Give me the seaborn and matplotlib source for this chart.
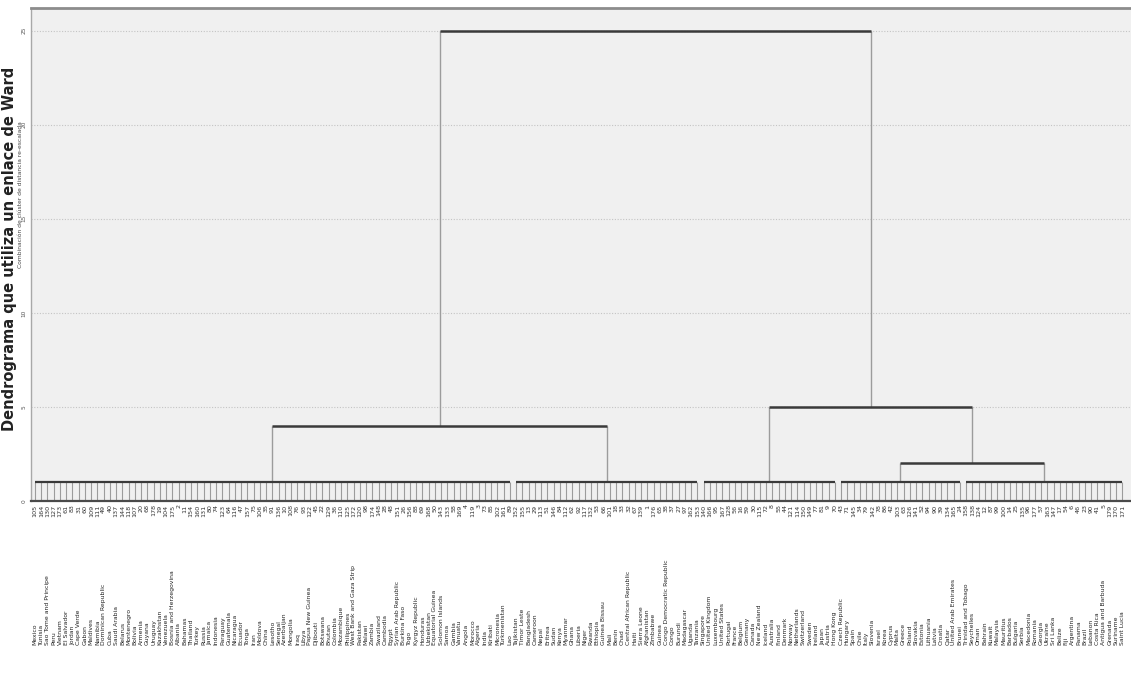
import pandas as pd
import seaborn as sns
import matplotlib.pyplot as plt
from matplotlib.transforms import blended_transform_factory

# leaves of each cluster, left to right, with the case number shown under each leaf
cluster_a_names = [
    "Mexico", "Tunisia", "Sao Tome and Principe", "Peru", "Vietnam", "El Salvador",
    "Jordan", "Cape Verde", "Gabon", "Maldives", "Namibia", "Dominican Republic",
    "Cuba", "Saudi Arabia", "Belarus", "Montenegro", "Bolivia", "Armenia", "Guyana",
    "Uruguay", "Kazakhstan", "Venezuela", "Bosnia and Herzegovina", "Albania",
    "Bahamas", "Thailand", "Turkey", "Russia", "Jamaica", "Indonesia", "Paraguay",
    "Guatemala", "Nicaragua", "Ecuador", "Tonga", "Iran", "Moldova", "China",
    "Lesotho", "Senegal", "Azerbaijan", "Mongolia", "Iraq", "Libya",
    "Papua New Guinea", "Djibouti", "Botswana", "Bhutan", "Colombia", "Mozambique",
    "Philippines", "West Bank and Gaza Strip", "Pakistan", "Malawi", "Zambia",
    "Swaziland", "Cambodia", "Egypt", "Syrian Arab Republic", "Burkina Faso", "Togo",
    "Kyrgyz Republic", "Honduras", "Uzbekistan", "Equatorial Guinea",
    "Solomon Islands", "Samoa", "Gambia", "Vanuatu", "Angola", "Morocco", "Algeria",
    "India", "Kiribati", "Micronesia", "Turkmenistan", "Lao",
]
cluster_a_ids = [
    105, 164, 130, 127, 173, 61, 83, 31, 60, 109, 111, 49, 40, 137, 144, 118, 107,
    20, 68, 178, 19, 104, 175, 2, 11, 154, 160, 131, 80, 74, 123, 64, 116, 47, 157,
    75, 106, 35, 91, 136, 10, 108, 76, 93, 122, 45, 22, 129, 36, 110, 125, 172, 120,
    98, 174, 148, 28, 48, 151, 26, 156, 88, 69, 168, 50, 143, 133, 58, 169, 4, 119,
    3, 73, 85, 102, 161, 89,
]

cluster_b_names = [
    "Tajikistan", "Timor Leste", "Bangladesh", "Cameroon", "Nepal", "Eritrea",
    "Sudan", "Kenya", "Myanmar", "Ghana", "Liberia", "Niger", "Rwanda", "Ethiopia",
    "Guinea Bissau", "Mali", "Benin", "Chad", "Central African Republic", "Haiti",
    "Sierra Leone", "Afghanistan", "Zimbabwe", "Guinea", "Congo Democratic Republic",
    "Congo", "Burundi", "Madagascar", "Uganda", "Tanzania",
]
cluster_b_ids = [
    152, 155, 13, 29, 113, 51, 146, 84, 112, 62, 92, 117, 132, 53, 66, 101, 18, 33,
    32, 67, 139, 1, 176, 65, 38, 37, 27, 97, 162, 153,
]

cluster_c_names = [
    "Singapore", "United Kingdom", "Luxembourg", "United States", "Portugal",
    "France", "Belgium", "Germany", "Canada", "New Zealand", "Iceland", "Australia",
    "Finland", "Denmark", "Norway", "Netherlands", "Switzerland", "Sweden",
    "Ireland", "Japan", "Austria", "Hong Kong",
]
cluster_c_ids = [
    140, 166, 95, 167, 128, 56, 16, 59, 30, 115, 72, 8, 55, 44, 121, 114, 150, 149,
    77, 81, 9, 70,
]

cluster_d_names = [
    "Czech Republic", "Hungary", "Spain", "Chile", "Italy", "Slovenia", "Israel",
    "Korea", "Cyprus", "Malta", "Greece", "Poland", "Slovakia", "Estonia",
    "Lithuania", "Latvia", "Croatia", "Qatar", "United Arab Emirates", "Brunei",
]
cluster_d_ids = [
    43, 71, 145, 34, 79, 142, 78, 86, 42, 103, 63, 126, 141, 52, 94, 90, 39, 134,
    165, 24,
]

cluster_e_names = [
    "Trinidad and Tobago", "Seychelles", "Oman", "Bahrain", "Kuwait", "Malaysia",
    "Mauritius", "Barbados", "Bulgaria", "Serbia", "Macedonia", "Romania",
    "Georgia", "Ukraine", "Sri Lanka", "Belize", "Fiji", "Argentina", "Panama",
    "Brazil", "Lebanon", "Costa Rica", "Antigua and Barbuda", "Grenada",
    "Suriname", "Saint Lucia",
]
cluster_e_ids = [
    158, 138, 124, 12, 87, 99, 100, 14, 25, 135, 96, 177, 57, 163, 147, 17, 54, 6,
    46, 23, 90, 41, 5, 179, 170, 171,
]

# rescaled distances (0-25) of the visible joins
leaf_join = 1
join_d_e = 2
join_a_b = 4
join_c_de = 5
join_root = 25
y_ticks = [0, 5, 10, 15, 20, 25]

clusters = [
    ("a", cluster_a_names, cluster_a_ids),
    ("b", cluster_b_names, cluster_b_ids),
    ("c", cluster_c_names, cluster_c_ids),
    ("d", cluster_d_names, cluster_d_ids),
    ("e", cluster_e_names, cluster_e_ids),
]
rows = []
for key, names, ids in clusters:
    for n, i in zip(names, ids):
        rows.append({"cluster": key, "name": n, "case": i})
leaves = pd.DataFrame(rows)
leaves["pos"] = range(len(leaves))

sns.set_theme(style="white")
plt.rcParams["font.family"] = ["DejaVu Sans"]

fig = plt.figure(figsize=(11.31, 7), dpi=100)
ax = fig.add_axes([31 / 1131, 199 / 700, 1100 / 1131, 493 / 700])
ax.set_facecolor("#f0f0f0")

n_leaves = len(leaves)
ax.set_xlim(-0.64, n_leaves + 0.4)
ax.set_ylim(0, 26.2)

for t in y_ticks[1:]:
    ax.axhline(t, color="#c4c4c4", lw=0.8, ls=(0, (1, 1.5)), zorder=0)

stem_c = "#9c9c9c"
bar_c = "#3a3a3a"

# leaf stems and the comb joining each cluster
ax.vlines(leaves["pos"], 0, leaf_join, color=stem_c, lw=0.8, zorder=2)
centres = {}
for key, grp in leaves.groupby("cluster"):
    lo, hi = grp["pos"].min(), grp["pos"].max()
    ax.hlines(leaf_join, lo, hi, color=bar_c, lw=1.6, zorder=3)
    centres[key] = (lo + hi) / 2


def join(left, right, h):
    (xl, hl), (xr, hr) = left, right
    ax.vlines([xl, xr], [hl, hr], h, color=stem_c, lw=1.0, zorder=2)
    ax.hlines(h, xl, xr, color=bar_c, lw=1.8, zorder=3)
    return ((xl + xr) / 2, h)


node_de = join((centres["d"], leaf_join), (centres["e"], leaf_join), join_d_e)
node_ab = join((centres["a"], leaf_join), (centres["b"], leaf_join), join_a_b)
node_cde = join((centres["c"], leaf_join), node_de, join_c_de)
join(node_ab, node_cde, join_root)

# leaf labels: case number under the axis, country name further down
trans = blended_transform_factory(ax.transData, ax.transAxes)
for _, r in leaves.iterrows():
    ax.text(r["pos"], -0.007, str(r["case"]), transform=trans, rotation=90,
            ha="center", va="top", fontsize=4.6, color="#333333")
    ax.text(r["pos"], -0.292, r["name"], transform=trans, rotation=90,
            ha="center", va="bottom", fontsize=4.4, color="#222222")

ax.set_xticks([])
ax.set_yticks(y_ticks)
ax.set_yticklabels([str(t) for t in y_ticks], rotation=90, va="center",
                   fontsize=4.2, color="#555555")
ax.tick_params(axis="y", length=2, width=0.6, color="#888888", pad=1)

ax.spines["right"].set_visible(False)
ax.spines["top"].set_color("#8c8c8c")
ax.spines["top"].set_linewidth(2)
ax.spines["left"].set_color("#a8a8a8")
ax.spines["left"].set_linewidth(1)
ax.spines["bottom"].set_color("#4a4a4a")
ax.spines["bottom"].set_linewidth(1.6)

fig.text(10 / 1131, 1 - 249 / 700, "Dendrograma que utiliza un enlace de Ward",
         rotation=90, ha="center", va="center", fontsize=10.5, fontweight="bold",
         color="#222222")
fig.text(20.5 / 1131, 1 - 195 / 700, "Combinación de clúster de distancia re-escalada",
         rotation=90, ha="center", va="center", fontsize=4.3, color="#444444")

fig.savefig("out.png", dpi=100, facecolor="white")
